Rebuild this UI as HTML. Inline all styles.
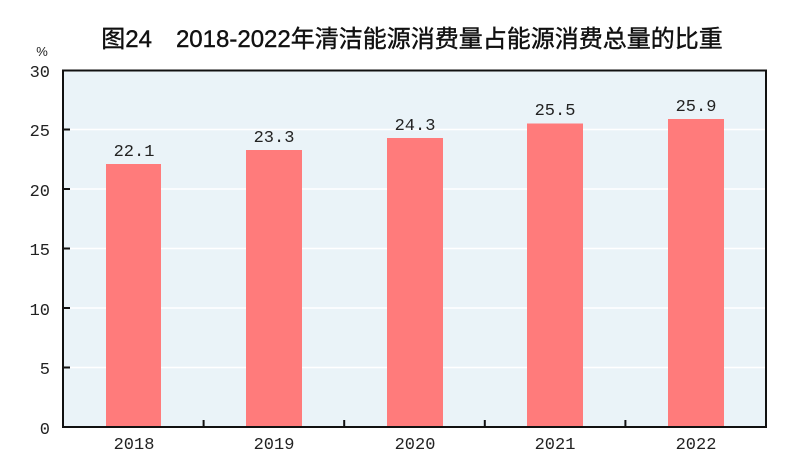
<!DOCTYPE html>
<html><head><meta charset="utf-8"><style>body{margin:0;background:#fff}svg{display:block}</style></head><body>
<svg width="800" height="468" xmlns="http://www.w3.org/2000/svg">
<rect width="800" height="468" fill="#fff"/>
<text x="412" y="47" text-anchor="middle" font-family="Liberation Sans, Noto Sans CJK SC, sans-serif" font-size="24" fill="#111" stroke="#111" stroke-width="0.4">图24　2018-2022年清洁能源消费量占能源消费总量的比重</text>
<rect x="63" y="70" width="703" height="357" fill="#eaf3f8"/>
<g stroke="#fff" stroke-width="1.5">
<line x1="63" x2="766" y1="129.5" y2="129.5"/><line x1="63" x2="766" y1="189" y2="189"/><line x1="63" x2="766" y1="248.5" y2="248.5"/><line x1="63" x2="766" y1="308" y2="308"/><line x1="63" x2="766" y1="367.5" y2="367.5"/></g>
<g fill="#ff7b7b">
<rect x="106" y="164" width="55" height="263"/>
<rect x="246" y="150" width="56" height="277"/>
<rect x="387" y="138" width="56" height="289"/>
<rect x="527" y="123.5" width="56" height="303.5"/>
<rect x="668" y="119" width="56" height="308"/>
</g>
<rect x="63" y="70.5" width="703" height="356.5" fill="none" stroke="#111" stroke-width="2"/>
<g stroke="#111" stroke-width="2">
<line x1="63" x2="70" y1="129.5" y2="129.5"/><line x1="63" x2="70" y1="189" y2="189"/><line x1="63" x2="70" y1="248.5" y2="248.5"/><line x1="63" x2="70" y1="308" y2="308"/><line x1="63" x2="70" y1="367.5" y2="367.5"/>
<line x1="203.6" x2="203.6" y1="420" y2="427"/><line x1="344.2" x2="344.2" y1="420" y2="427"/><line x1="484.8" x2="484.8" y1="420" y2="427"/><line x1="625.4" x2="625.4" y1="420" y2="427"/>
</g>
<g font-family="Liberation Mono, monospace" font-size="17" fill="#222" text-anchor="end">
<text x="50" y="77">30</text><text x="50" y="136">25</text><text x="50" y="196">20</text><text x="50" y="255">15</text><text x="50" y="315">10</text><text x="50" y="374">5</text><text x="50" y="434">0</text>
</g>
<text x="42" y="56" text-anchor="middle" font-family="Liberation Sans, sans-serif" font-size="13" fill="#222">%</text>
<g font-family="Liberation Mono, monospace" font-size="17" fill="#222" text-anchor="middle">
<text x="134" y="156">22.1</text><text x="274" y="142">23.3</text><text x="415" y="130">24.3</text><text x="555" y="115">25.5</text><text x="696" y="111">25.9</text>
<text x="134" y="449">2018</text><text x="274" y="449">2019</text><text x="415" y="449">2020</text><text x="555" y="449">2021</text><text x="696" y="449">2022</text>
</g>
</svg>
</body></html>
